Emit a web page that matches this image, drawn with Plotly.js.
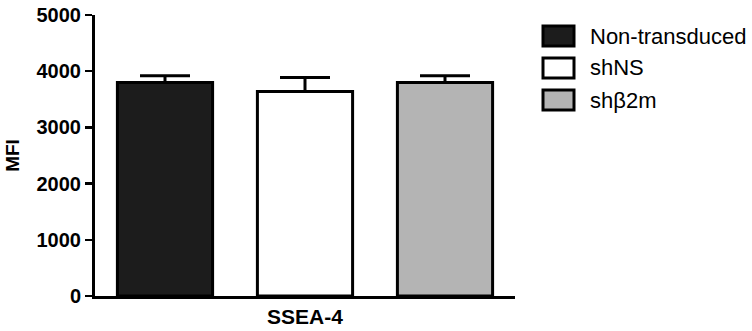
<!DOCTYPE html>
<html>
<head>
<meta charset="utf-8">
<script src="https://cdn.plot.ly/plotly-3.0.1.min.js"></script>
<style>html,body{margin:0;padding:0;background:#fff;}#chart{width:752px;height:331px;}</style>
</head>
<body>
<div id="chart"></div>
<script>
const categories = ["SSEA-4"];
const seriesNames = ["Non-transduced", "shNS", "shβ2m"];
const seriesValues = [[3800], [3640], [3800]];
const seriesErrors = [[120], [250], [120]];
const seriesColors = ["#1c1c1c", "#ffffff", "#b4b4b4"];
const yTicks = [0, 1000, 2000, 3000, 4000, 5000];

const W = 752, H = 331;
const M = {l: 95, r: 237, t: 15, b: 35};
const pw = W - M.l - M.r, ph = H - M.t - M.b;
const px = x => (x - M.l) / pw;
const py = y => (H - M.b - y) / ph;
const FONT = "Liberation Sans, Arial, sans-serif";

const traces = seriesNames.map((name, i) => ({
  type: "bar",
  name: name,
  x: categories,
  y: seriesValues[i],
  marker: {color: seriesColors[i], line: {color: "#000", width: 3}},
  error_y: {type: "data", symmetric: false, array: seriesErrors[i], arrayminus: [0], color: "#000", thickness: 3, width: 25},
  showlegend: false
}));

const shapes = [];
const annotations = [];
const rowY = [36, 68, 100];
seriesNames.forEach((name, i) => {
  shapes.push({type: "rect", xref: "paper", yref: "paper",
    x0: px(543), x1: px(574), y0: py(rowY[i] - 10), y1: py(rowY[i] + 10),
    fillcolor: seriesColors[i], line: {color: "#000", width: 3}});
  annotations.push({xref: "paper", yref: "paper", x: px(588), y: py(rowY[i]),
    xanchor: "left", yanchor: "middle", text: name, showarrow: false,
    font: {family: FONT, size: 22, color: "#000"}});
});

const layout = {
  width: W, height: H,
  margin: M,
  paper_bgcolor: "#fff", plot_bgcolor: "#fff",
  barmode: "group", bargap: 0, bargroupgap: 0.32,
  font: {family: FONT, color: "#000"},
  xaxis: {
    showline: true, linecolor: "#000", linewidth: 3, ticks: "", showgrid: false,
    zeroline: false, range: [-0.5, 0.5], fixedrange: true,
    tickfont: {size: 21, family: FONT, weight: "bold"}
  },
  yaxis: {
    range: [0, 5000], showline: true, linecolor: "#000", linewidth: 3,
    ticks: "outside", ticklen: 7, tickwidth: 2.5, tickcolor: "#000",
    tickvals: yTicks, ticktext: yTicks.map(String), showgrid: false, zeroline: false,
    tickfont: {size: 20, family: FONT, weight: "bold"},
    title: {text: "MFI", standoff: 12, font: {size: 19, family: FONT, weight: "bold"}}
  },
  shapes: shapes,
  annotations: annotations
};

Plotly.newPlot("chart", traces, layout, {staticPlot: true, displayModeBar: false});
</script>
</body>
</html>
